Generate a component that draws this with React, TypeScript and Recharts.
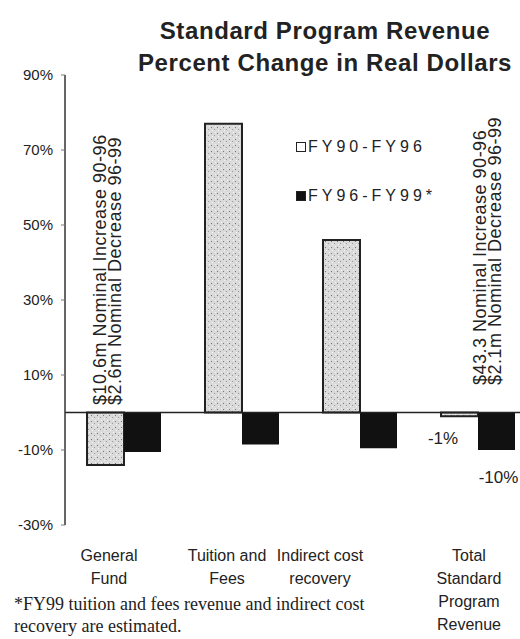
import React from "react";
import { BarChart, Bar, XAxis, YAxis, ReferenceLine, LabelList } from "recharts";

const categories = ["General Fund", "Tuition and Fees", "Indirect cost recovery", "Total Standard Program Revenue"];
const tickLines = [["General", "Fund"], ["Tuition and", "Fees"], ["Indirect cost", "recovery"], ["Total", "Standard", "Program", "Revenue"]];
const fy90to96 = [-14, 77, 46, -1];
const fy96to99 = [-10.5, -8.5, -9.5, -10];
const fy90to96Labels = ["", "", "", "-1%"];
const fy96to99Labels = ["", "", "", "-10%"];
const yTicks = [-30, -10, 10, 30, 50, 70, 90];

const data = categories.map((c, i) => ({
  name: c,
  a: fy90to96[i],
  b: fy96to99[i],
  aLabel: fy90to96Labels[i],
  bLabel: fy96to99Labels[i],
}));

const sans = "'Liberation Sans', Arial, sans-serif";
// the source labels sit a little left of their bar pairs
const tickShift = [-15, -15, -40, -9];

function CatTick({ x, y, index }: any) {
  const lines = tickLines[index] || [];
  const cx = x + (tickShift[index] || 0);
  return (
    <text x={cx} y={y} textAnchor="middle" fontFamily={sans} fontSize={16} fill="#222">
      {lines.map((l, i) => (
        <tspan key={i} x={cx} dy={i === 0 ? 28 : 23}>{l}</tspan>
      ))}
    </text>
  );
}

function boxOf(p: any) {
  const vb = p.viewBox || p;
  const top = Math.min(vb.y, vb.y + vb.height);
  const bottom = Math.max(vb.y, vb.y + vb.height);
  return { x: vb.x, w: vb.width, top, bottom };
}

function GrayLabel(p: any) {
  if (!p.value) return null;
  const b = boxOf(p);
  return (
    <text x={b.x + 2} y={b.bottom + 28} textAnchor="middle" fontFamily={sans} fontSize={17} fill="#222">{p.value}</text>
  );
}

function BlackLabel(p: any) {
  if (!p.value) return null;
  const b = boxOf(p);
  return (
    <text x={b.x + b.w / 2 + 2} y={b.bottom + 33} textAnchor="middle" fontFamily={sans} fontSize={17} fill="#222">{p.value}</text>
  );
}

function LegendBox() {
  const row = (fill: string, label: string, top: number) => (
    <div style={{ position: "absolute", left: 296, top, fontFamily: sans, fontSize: 16, letterSpacing: 4, color: "#222", display: "flex", alignItems: "center" }}>
      <span style={{ width: 8, height: 8, border: "1.5px solid #222", background: fill, marginRight: 2, display: "inline-block" }} />
      {label}
    </div>
  );
  return (
    <>
      {row("#fff", "FY90-FY96", 138)}
      {row("#111", "FY96-FY99*", 187)}
    </>
  );
}

function Rotated({ left, top, lines }: { left: number; top: number; lines: string[] }) {
  return (
    <div
      style={{
        position: "absolute",
        left,
        top,
        transform: "rotate(-90deg)",
        transformOrigin: "top left",
        whiteSpace: "nowrap",
        fontFamily: sans,
        fontSize: 18,
        letterSpacing: 0.5,
        lineHeight: "15px",
        color: "#222",
      }}
    >
      {lines.map((l, i) => (
        <div key={i}>{l}</div>
      ))}
    </div>
  );
}

export default function App() {
  return (
    <div style={{ position: "absolute", left: 0, top: 0, width: 520, height: 639, overflow: "hidden", background: "#fff" }}>
      <div style={{ position: "absolute", left: 0, top: 0 }}>
        <BarChart
          width={560}
          height={639}
          data={data}
          margin={{ top: 75, right: 23, left: 0, bottom: 84 }}
          barCategoryGap={22}
          barGap={0}
        >
          <defs>
            <pattern id="stipple" width="6" height="6" patternUnits="userSpaceOnUse">
              <rect width="6" height="6" fill="#dadada" />
              <rect x="1" y="1" width="1" height="1" fill="#777" />
              <rect x="4" y="3" width="1" height="1" fill="#999" />
              <rect x="2" y="4" width="1" height="1" fill="#f4f4f4" />
              <rect x="5" y="0" width="1" height="1" fill="#f4f4f4" />
            </pattern>
          </defs>
          <XAxis dataKey="name" axisLine={false} tickLine={false} tick={<CatTick />} interval={0} height={30} />
          <YAxis
            width={65}
            domain={[-30, 90]}
            ticks={yTicks}
            tickFormatter={(v) => `${v}%`}
            axisLine={{ stroke: "#333", strokeWidth: 1.5 }}
            tickLine={{ stroke: "#777" }}
            tickSize={4}
            tickMargin={8}
            tick={{ fontFamily: sans, fontSize: 15, fill: "#222" }}
            allowDataOverflow
          />
          <ReferenceLine y={0} stroke="#222" strokeWidth={1.5} />
          <Bar dataKey="a" fill="url(#stipple)" stroke="#222" strokeWidth={2} isAnimationActive={false}>
            <LabelList dataKey="aLabel" content={<GrayLabel />} />
          </Bar>
          <Bar dataKey="b" fill="#111" isAnimationActive={false}>
            <LabelList dataKey="bLabel" content={<BlackLabel />} />
          </Bar>
        </BarChart>
      </div>
      <div style={{ position: "absolute", left: 120, top: 15, width: 410, textAlign: "center", fontFamily: sans, fontWeight: "bold", fontSize: 24, letterSpacing: 0.6, lineHeight: "32px", color: "#222" }}>
        Standard Program Revenue
        <br />
        Percent Change in Real Dollars
      </div>
      <LegendBox />
      <Rotated left={93} top={405} lines={["$10.6m Nominal Increase 90-96", "$2.6m Nominal Decrease 96-99"]} />
      <Rotated left={473} top={385} lines={["$43.3 Nominal Increase 90-96", "$2.1m Nominal Decrease 96-99"]} />
      <div style={{ position: "absolute", left: 14, top: 593, fontFamily: "'Liberation Serif', serif", fontSize: 18, lineHeight: "22px", color: "#222" }}>
        *FY99 tuition and fees revenue and indirect cost
        <br />
        recovery are estimated.
      </div>
    </div>
  );
}
